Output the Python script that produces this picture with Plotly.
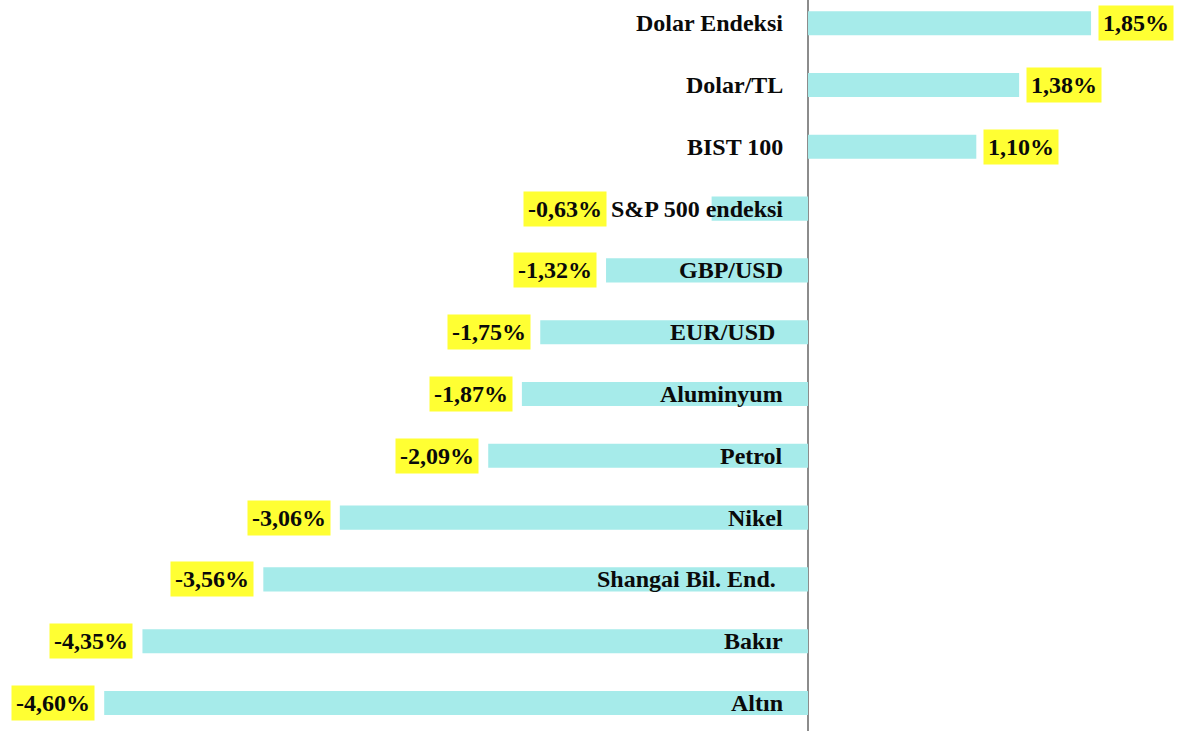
import plotly.graph_objects as go

categories = ["Dolar Endeksi", "Dolar/TL", "BIST 100", "S&P 500 endeksi", "GBP/USD",
              "EUR/USD", "Aluminyum", "Petrol", "Nikel", "Shangai Bil. End.", "Bakır", "Altın"]
values = [1.85, 1.38, 1.10, -0.63, -1.32, -1.75, -1.87, -2.09, -3.06, -3.56, -4.35, -4.60]
value_labels = ["1,85%", "1,38%", "1,10%", "-0,63%", "-1,32%", "-1,75%", "-1,87%",
                "-2,09%", "-3,06%", "-3,56%", "-4,35%", "-4,60%"]

n = len(categories)
ypos = [n - 1 - i for i in range(n)]

# value label for S&P sits left of its category text (pixel shift from the zero line)
special_shift = {"S&P 500 endeksi": -201}
cat_shift = {"EUR/USD": -31, "Shangai Bil. End.": -30}

FONT = "Liberation Serif"
SIZE = 24
fig = go.Figure(go.Bar(
    x=values, y=ypos, orientation="h", width=0.39,
    marker=dict(color="#A6EBEA", line=dict(width=0)),
    hoverinfo="skip",
))

ann = []
for c, v, lab, y in zip(categories, values, value_labels, ypos):
    ann.append(dict(x=0, y=y, xref="x", yref="y", text="<b>%s</b>" % c,
                    showarrow=False, xanchor="right", xshift=cat_shift.get(c, -23),
                    font=dict(family=FONT, size=SIZE, color="#0a0a0a")))
    if c in special_shift:
        ax, xs = 0, special_shift[c]
    else:
        ax, xs = v, (7 if v > 0 else -9)
    ann.append(dict(x=ax, y=y, xref="x", yref="y", text="<b>%s</b>" % lab,
                    showarrow=False, xanchor="left" if v > 0 else "right",
                    xshift=xs, bgcolor="#FFFF33", borderpad=4,
                    font=dict(family=FONT, size=SIZE, color="#0a0a0a")))

fig.update_layout(
    width=1182, height=731,
    margin=dict(l=0, r=0, t=0, b=0),
    paper_bgcolor="white", plot_bgcolor="white",
    showlegend=False,
    xaxis=dict(range=[-808 / 153, (1182 - 808) / 153], showgrid=False, showticklabels=False,
               zeroline=True, zerolinecolor="#8C8C8C", zerolinewidth=2, fixedrange=True),
    yaxis=dict(range=[-28 / 61.8, 703 / 61.8], showgrid=False, showticklabels=False,
               zeroline=False, fixedrange=True),
    annotations=ann,
)
fig.write_html("out.html")
